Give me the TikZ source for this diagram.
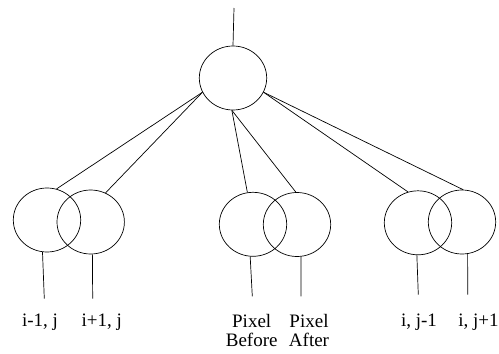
\documentclass[tikz,border=0pt]{standalone}
\usepackage{fontspec}
\setmainfont{Liberation Serif}
\usetikzlibrary{shapes.geometric}
\begin{document}
\begin{tikzpicture}[x=1pt,y=-1pt,line width=0.7pt,
  ov/.style={draw,ellipse,minimum width=67.4pt,minimum height=64pt,inner sep=0pt},
  lbl/.style={anchor=base,inner sep=0pt,font=\fontsize{19}{20}\selectfont}]
\useasboundingbox (0,0) rectangle (499,354);
\node[ov] (top) at (233,78) {};
\node[ov] (a1) at (47,220) {};
\node[ov] (a2) at (90.7,222) {};
\node[ov] (b1) at (253,224.3) {};
\node[ov] (b2) at (297,224.5) {};
\node[ov] (c1) at (418,222.8) {};
\node[ov] (c2) at (462,222) {};
\coordinate (t0) at (234,8);
\draw (t0) -- (top.north);
\draw (top.205) -- (a1.73);
\draw (top.205) -- (a2.63);
\draw (top.-92) -- (b1.100);
\draw (top.-92) -- (b2.92);
\draw (top.-25) -- (c1.108);
\draw (top.-25) -- (c2.88);
\coordinate (ea1) at (44.3,298.7);
\coordinate (ea2) at (92.7,298.7);
\coordinate (eb1) at (252.3,296.3);
\coordinate (eb2) at (301,296.3);
\coordinate (ec1) at (418.3,294.7);
\coordinate (ec2) at (467.7,294.7);
\draw (a1.262) -- (ea1);
\draw (a2.273) -- (ea2);
\draw (b1.265) -- (eb1);
\draw (b2.277) -- (eb2);
\draw (c1.268) -- (ec1);
\draw (c2.280) -- (ec2);
\node[lbl] (la1) at (40,326.7) {i-1, j};
\node[lbl] (la2) at (101.7,326.7) {i+1, j};
\node[lbl] (lb1) at (251.7,327) {Pixel};
\node[lbl] (lb1b) at (251.7,346.5) {Before};
\node[lbl] (lb2) at (309,327) {Pixel};
\node[lbl] (lb2b) at (309,346.5) {After};
\node[lbl] (lc1) at (419,326.7) {i, j-1};
\node[lbl] (lc2) at (478.5,326.7) {i, j+1};
\end{tikzpicture}
\end{document}
